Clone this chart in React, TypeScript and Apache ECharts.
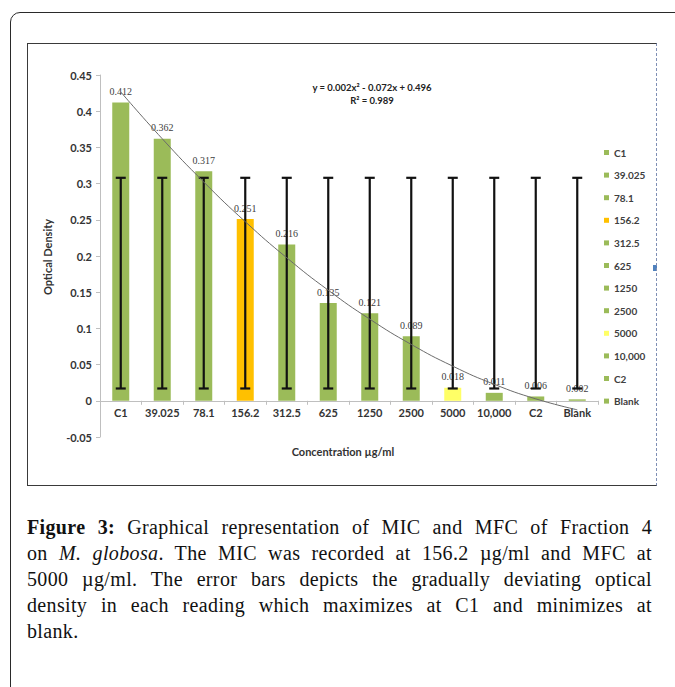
import React, { useEffect, useRef } from "react";
import * as echarts from "echarts";

const categories = ["C1", "39.025", "78.1", "156.2", "312.5", "625", "1250", "2500", "5000", "10,000", "C2", "Blank"];
const odValues = [0.412, 0.362, 0.317, 0.251, 0.216, 0.135, 0.121, 0.089, 0.018, 0.011, 0.006, 0.002];
const errLow = [0.017, 0.017, 0.017, 0.017, 0.017, 0.017, 0.017, 0.017, 0.017, 0.017, 0.017, 0.017];
const errHigh = [0.308, 0.308, 0.308, 0.308, 0.308, 0.308, 0.308, 0.308, 0.308, 0.308, 0.308, 0.308];
const barColors = ["#9BBB59", "#9BBB59", "#9BBB59", "#FFC000", "#9BBB59", "#9BBB59", "#9BBB59", "#9BBB59", "#FFFF66", "#9BBB59", "#9BBB59", "#9BBB59"];
const yMin = -0.05;
const yMax = 0.45;
const yInterval = 0.05;
const equationLines = ["y = 0.002x² - 0.072x + 0.496", "R² = 0.989"];
const xTitle = "Concentration µg/ml";
const yTitle = "Optical Density";

// Least-squares quadratic (Excel polynomial trendline, order 2) fitted to the bar values.
function quadFit(ys: number[]) {
  const n = ys.length;
  const s = [0, 0, 0, 0, 0];
  const t = [0, 0, 0];
  for (let i = 0; i < n; i++) {
    const x = i + 1;
    for (let k = 0; k <= 4; k++) s[k] += Math.pow(x, k);
    for (let k = 0; k <= 2; k++) t[k] += ys[i] * Math.pow(x, k);
  }
  const m = [
    [s[0], s[1], s[2], t[0]],
    [s[1], s[2], s[3], t[1]],
    [s[2], s[3], s[4], t[2]],
  ];
  for (let c = 0; c < 3; c++) {
    for (let r = c + 1; r < 3; r++) {
      const f = m[r][c] / m[c][c];
      for (let k = c; k < 4; k++) m[r][k] -= f * m[c][k];
    }
  }
  const sol = [0, 0, 0];
  for (let r = 2; r >= 0; r--) {
    let v = m[r][3];
    for (let k = r + 1; k < 3; k++) v -= m[r][k] * sol[k];
    sol[r] = v / m[r][r];
  }
  return ys.map((_, i) => {
    const x = i + 1;
    return sol[0] + sol[1] * x + sol[2] * x * x;
  });
}

const trendValues = quadFit(odValues);

export default function App() {
  const ref = useRef<HTMLDivElement>(null);

  useEffect(() => {
    if (!ref.current) return;
    const chart = echarts.init(ref.current, undefined, { renderer: "svg" });
    const sans = "Lato";
    const gridTop = 75;
    const gridBottomPx = 437;
    const zeroOffset = -((0 - yMin) / (yMax - yMin)) * (gridBottomPx - gridTop);
    const barSeries = categories.map((name, i) => ({
      type: "bar",
      name,
      data: categories.map((_, j) => (j === i ? odValues[i] : "-")),
      barWidth: 17,
      barGap: "-100%",
      z: 2,
      itemStyle: { color: barColors[i] },
      label: {
        show: true,
        position: "top",
        distance: 6,
        fontFamily: "Liberation Serif",
        fontSize: 10,
        color: "#404040",
        formatter: () => odValues[i].toFixed(3),
      },
    }));

    chart.setOption({
      animation: false,
      backgroundColor: "transparent",
      grid: { left: 100, right: 77, top: gridTop, bottom: 490 - gridBottomPx },
      legend: {
        orient: "vertical",
        left: 599,
        top: 142,
        data: categories,
        icon: "rect",
        itemWidth: 5,
        itemHeight: 5,
        itemGap: 11.6,
        itemTextGap: 3,
        selectedMode: false,
        textStyle: { fontFamily: sans, fontWeight: "bold", fontSize: 10, color: "#404040", lineHeight: 11 },
      },
      xAxis: {
        type: "category",
        data: categories,
        offset: zeroOffset,
        axisLine: { onZero: false, lineStyle: { color: "#bfbfbf", width: 1 } },
        axisTick: { show: true, length: 4, alignWithLabel: false, lineStyle: { color: "#bfbfbf" } },
        axisLabel: { interval: 0, margin: 6, fontFamily: sans, fontWeight: "bold", fontSize: 11, color: "#333" },
        splitLine: { show: false },
      },
      yAxis: {
        type: "value",
        min: yMin,
        max: yMax,
        interval: yInterval,
        axisLine: { show: true, lineStyle: { color: "#bfbfbf", width: 1 } },
        axisTick: { show: true, length: 4, lineStyle: { color: "#bfbfbf" } },
        axisLabel: {
          margin: 8,
          fontFamily: sans,
          fontWeight: "bold",
          fontSize: 11,
          color: "#333",
          formatter: (v: number) => String(+v.toFixed(2)),
        },
        splitLine: { show: false },
      },
      series: [
        ...barSeries,
        {
          type: "custom",
          name: "error",
          z: 5,
          data: categories.map((_, i) => [i, errLow[i], errHigh[i]]),
          encode: { x: 0, y: [1, 2] },
          renderItem: (params: any, api: any) => {
            const x = api.value(0);
            const lo = api.coord([x, api.value(1)]);
            const hi = api.coord([x, api.value(2)]);
            const w = 5;
            const style = { stroke: "#111", lineWidth: 2.2 };
            return {
              type: "group",
              children: [
                { type: "line", shape: { x1: lo[0], y1: lo[1], x2: hi[0], y2: hi[1] }, style },
                { type: "line", shape: { x1: hi[0] - w, y1: hi[1], x2: hi[0] + w, y2: hi[1] }, style },
                { type: "line", shape: { x1: lo[0] - w, y1: lo[1], x2: lo[0] + w, y2: lo[1] }, style },
              ],
            };
          },
        },
        {
          type: "line",
          name: "trend",
          z: 6,
          data: trendValues,
          smooth: true,
          symbol: "none",
          lineStyle: { color: "#6b6b6b", width: 1 },
        },
      ],
      graphic: [
        {
          type: "text",
          x: 372,
          y: 87,
          style: { text: equationLines[0], fontFamily: sans, fontWeight: "bold", fontSize: 9.5, fill: "#222", align: "center", verticalAlign: "middle" },
        },
        {
          type: "text",
          x: 372,
          y: 100,
          style: { text: equationLines[1], fontFamily: sans, fontWeight: "bold", fontSize: 9.5, fill: "#222", align: "center", verticalAlign: "middle" },
        },
        {
          type: "text",
          x: 343,
          y: 451,
          style: { text: xTitle, fontFamily: sans, fontWeight: "bold", fontSize: 11, fill: "#333", align: "center", verticalAlign: "middle" },
        },
        {
          type: "text",
          x: 47,
          y: 257,
          rotation: Math.PI / 2,
          style: { text: yTitle, fontFamily: sans, fontWeight: "bold", fontSize: 11, fill: "#333", align: "center", verticalAlign: "middle" },
        },
        {
          type: "rect",
          shape: { x: 653, y: 265, width: 4, height: 6 },
          style: { fill: "#4F81BD" },
        },
      ],
    });
    return () => chart.dispose();
  }, []);

  const lineStyle: React.CSSProperties = { textAlign: "justify", textAlignLast: "justify" as any };

  return (
    <div style={{ position: "fixed", left: 0, top: 0, width: 675, height: 687, overflow: "hidden", background: "#fff" }}>
      <div
        style={{
          position: "absolute",
          left: 10,
          top: 12,
          width: 720,
          height: 720,
          border: "1px solid #2a2a2a",
          borderRadius: 10,
          boxSizing: "border-box",
        }}
      />
      <div ref={ref} style={{ position: "absolute", left: 0, top: 0, width: 675, height: 490 }} />
      <div
        style={{
          position: "absolute",
          left: 27,
          top: 43,
          width: 630,
          height: 443,
          borderTop: "1.5px solid #3a3a3a",
          borderLeft: "1.5px solid #3a3a3a",
          borderBottom: "1.5px solid #3a3a3a",
          borderRight: "1px dashed #7f8fb5",
          boxSizing: "border-box",
          pointerEvents: "none",
        }}
      />
      <div
        style={{
          position: "absolute",
          left: 27,
          top: 514,
          width: 625,
          fontFamily: "'Liberation Serif', serif",
          fontSize: 20,
          letterSpacing: "0.35px",
          lineHeight: "26px",
          color: "#111",
        }}
      >
        <div style={lineStyle}>
          <b>Figure 3:</b> Graphical representation of MIC and MFC of Fraction 4
        </div>
        <div style={lineStyle}>
          on <i>M. globosa</i>. The MIC was recorded at 156.2 µg/ml and MFC at
        </div>
        <div style={lineStyle}>5000 µg/ml. The error bars depicts the gradually deviating optical</div>
        <div style={lineStyle}>density in each reading which maximizes at C1 and minimizes at</div>
        <div>blank.</div>
      </div>
    </div>
  );
}
